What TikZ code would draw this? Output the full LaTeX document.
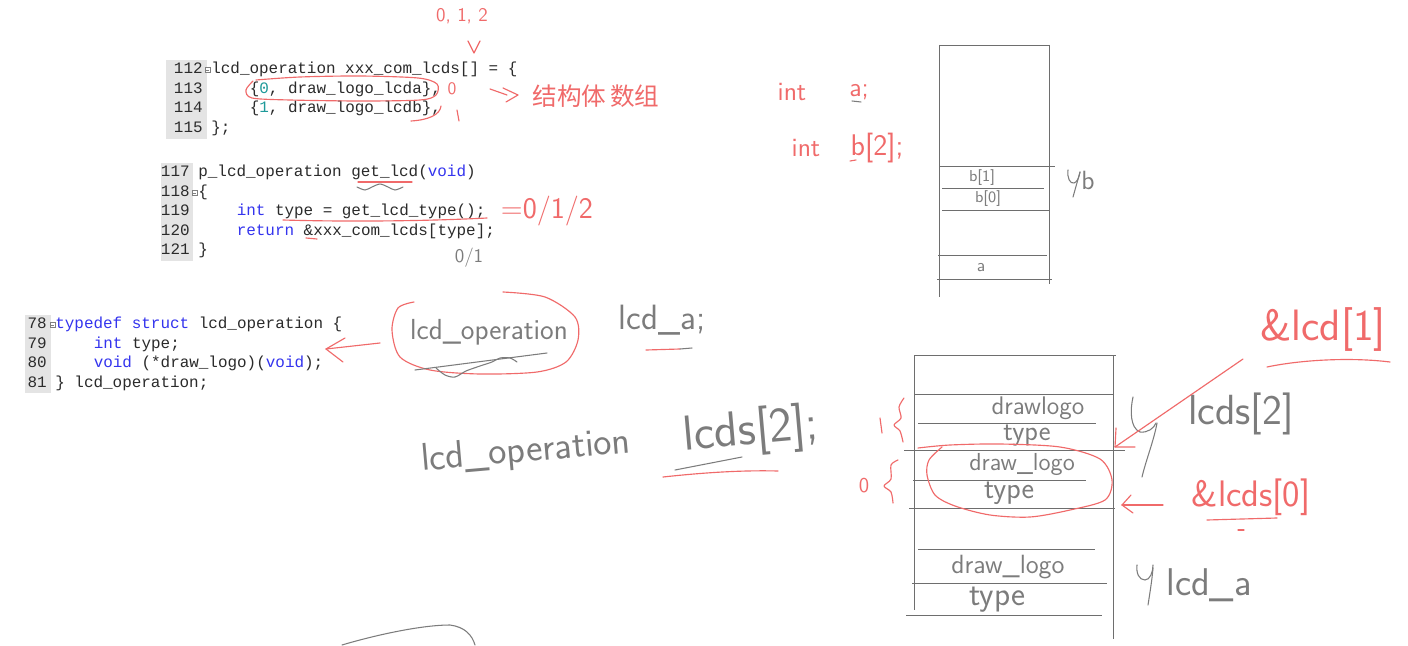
\documentclass[tikz,border=0pt]{standalone}
\usepackage{fontspec}
\setmonofont{Liberation Mono}
\newfontfamily\cjkfont{Noto Sans CJK SC}
\definecolor{ink}{HTML}{F06A6A}
\definecolor{pencil}{HTML}{7C7C7C}
\definecolor{codefg}{HTML}{2B2B2B}
\definecolor{kwblue}{HTML}{3434EE}
\definecolor{numteal}{HTML}{1E9A9A}
\definecolor{gutterbg}{HTML}{E4E4E4}
\definecolor{rulegray}{HTML}{6E6E6E}
\newcommand\kw[1]{\textcolor{kwblue}{#1}}
\newcommand\cnum[1]{\textcolor{numteal}{#1}}
\newcommand\hsz[1]{\fontsize{#1}{#1}\selectfont}
\tikzset{
  code/.style={anchor=mid west, inner sep=0, text=codefg, font=\ttfamily\hsz{9.07pt}},
  lnum/.style={anchor=mid east, inner sep=0, text=codefg, font=\ttfamily\hsz{9.07pt}},
  hand/.style={inner sep=0, text=pencil, font=\sffamily},
  redhand/.style={inner sep=0, text=ink, font=\sffamily},
  pen/.style={draw=pencil, line width=0.6pt, line cap=round, line join=round},
  redpen/.style={draw=ink, line width=0.65pt, line cap=round, line join=round},
  memline/.style={draw=rulegray, line width=0.55pt},
  gutter/.style={fill=gutterbg},
  fold/.style={draw=gray, line width=0.3pt, fill=white},
}
\begin{document}
\begin{tikzpicture}[x=0.02cm,y=-0.02cm]
\useasboundingbox (0,0) rectangle (1408,645);
\fill[white] (0,0) rectangle (1408,645);

% ---------------- code block 1 ----------------
\fill[gutter] (166,60) rectangle (207,139);
\draw[fold] (205,67.5) rectangle (210,72.5); \draw[gray,line width=0.3pt] (206,70) -- (209,70);
\node[lnum] (n112) at (203,70) {112};
\node[lnum] (n113) at (203,89.5) {113};
\node[lnum] (n114) at (203,109) {114};
\node[lnum] (n115) at (203,128.5) {115};
\node[code] (c112) at (211,70) {lcd\_operation xxx\_com\_lcds[] = \{};
\node[code] (c113) at (249.4,89.5) {\{\cnum{0}, draw\_logo\_lcda\},};
\node[code] (c114) at (249.4,109) {\{\cnum{1}, draw\_logo\_lcdb\},};
\node[code] (c115) at (211,128.5) {\};};

% ---------------- code block 2 ----------------
\fill[gutter] (161,163) rectangle (193,261);
\draw[fold] (192,190.5) rectangle (197,195.5); \draw[gray,line width=0.3pt] (193,193) -- (196,193);
\node[lnum] (n117) at (190,173) {117};
\node[lnum] (n118) at (190,192.5) {118};
\node[lnum] (n119) at (190,212) {119};
\node[lnum] (n120) at (190,231.5) {120};
\node[lnum] (n121) at (190,251) {121};
\node[code] (c117) at (198,173) {p\_lcd\_operation get\_lcd(\kw{void})};
\node[code] (c118) at (198,192.5) {\{};
\node[code] (c119) at (236.4,212) {\kw{int} type = get\_lcd\_type();};
\node[code] (c120) at (236.4,231.5) {\kw{return} \&xxx\_com\_lcds[type];};
\node[code] (c121) at (198,251) {\}};

% ---------------- code block 3 ----------------
\fill[gutter] (25,315) rectangle (51,393);
\draw[fold] (50,322.5) rectangle (55,327.5); \draw[gray,line width=0.3pt] (51,325) -- (54,325);
\node[lnum] (n78) at (47,325) {78};
\node[lnum] (n79) at (47,344.5) {79};
\node[lnum] (n80) at (47,364) {80};
\node[lnum] (n81) at (47,383.5) {81};
\node[code] (c78) at (55,325) {\kw{typedef} \kw{struct} lcd\_operation \{};
\node[code] (c79) at (93.4,344.5) {\kw{int} type;};
\node[code] (c80) at (93.4,364) {\kw{void} (*draw\_logo)(\kw{void});};
\node[code] (c81) at (55,383.5) {\} lcd\_operation;};

% ---------------- annotations block 1 ----------------
\node[redhand, font=\sffamily\hsz{11pt}] (idx012) at (462,16) {0, 1, 2};
\draw[redpen] (468,41) -- (474,53) -- (480,41);
\draw[redpen] plot[smooth] coordinates {(256,80) (300,77) (360,76) (418,78) (437,84) (436,95) (420,100) (360,101) (290,100) (252,98) (246,90) (253,81)};
\node[redhand, font=\sffamily\hsz{10pt}] (zero113) at (452,89) {0};
\draw[redpen] (411,121) .. controls (428,120) and (440,115) .. (441,106);
\draw[redpen] (457,110) -- (459,121);
\draw[redpen] (490,89) -- (507,95);
\draw[redpen] (503,88) -- (518,95) -- (506,102);
\node[redhand, font=\cjkfont\hsz{14pt}] (jgsz) at (596,96) {结构体\,数组};

% ---------------- annotations block 2 ----------------
\draw[redpen] (358,182) -- (412,182);
\draw[pen] plot[smooth] coordinates {(357,187) (365,190) (372,187) (380,184) (388,187) (395,190) (403,187)};
\draw[redpen] (283,220) .. controls (350,222) and (430,221) .. (487,218);
\draw[redpen] (306,238) -- (317,239);
\node[redhand, font=\sffamily\hsz{17pt}] (eq012) at (547,211) {=0/1/2};
\node[hand, font=\sffamily\hsz{11pt}] (zo01) at (469,258) {0/1};

% ---------------- annotations block 3 ----------------
\coordinate (arrtail) at (380,343);
\coordinate (arrtip) at (326,349);
\draw[redpen] (arrtail) -- (arrtip);
\draw[redpen] (345,338) -- (arrtip) -- (343,362);
\node[hand, font=\sffamily\hsz{16.5pt}] (hop) at (489,332) {lcd\_operation};
\draw[redpen] plot[smooth] coordinates {(503,292) (545,297) (575,317) (578,340) (566,362) (537,372) (480,374) (430,370) (400,357) (392,330) (398,308) (414,302)};
\draw[pen] (415,370) -- (547,353);
\draw[pen] plot[smooth] coordinates {(436,368) (445,375) (455,377) (466,371) (480,366) (492,362) (500,358) (510,358) (517,362)};
\node[hand, font=\sffamily\hsz{20pt}] (hlcda) at (662,320) {lcd\_a;};
\draw[redpen] (646,350) -- (680,349);
\draw[pen] (680,349) -- (692,348);

\node[hand, font=\sffamily\hsz{22pt}, rotate=5] (hop2) at (526,452) {lcd\_operation};
\node[hand, font=\sffamily\hsz{28pt}, rotate=5] (hlcds) at (751,432) {lcds[2];};
\draw[pen] (675,470) -- (742,457);
\draw[redpen] (663,477) .. controls (700,473) and (740,470) .. (778,471);
\draw[pen] (342,645) .. controls (372,636) and (420,625) .. (450,625) .. controls (465,627) and (472,635) .. (475,645);

% ---------------- stack 1 ----------------
\node[redhand, font=\sffamily\hsz{15pt}] (int1) at (792,92) {int};
\node[redhand, font=\sffamily\hsz{15pt}] (a1) at (859,92) {a;};
\draw[pen] (852,101) -- (861,102);
\node[redhand, font=\sffamily\hsz{15pt}] (int2) at (806,148) {int};
\node[redhand, font=\sffamily\hsz{17pt}] (b2) at (877,148) {b[2];};
\draw[redpen] (850,161) -- (856,160);

\draw[memline] (939,45) -- (939,297);
\draw[memline] (1049,45) -- (1049,284);
\draw[memline] (939,45) -- (1049,45);
\draw[memline] (939,166) -- (1055,166);
\draw[memline] (942,188) -- (1044,188);
\draw[memline] (942,210) -- (1049,210);
\draw[memline] (938,255) -- (1047,255);
\draw[memline] (937,279) -- (1052,279);
\node[hand, font=\sffamily\hsz{9pt}] (sb1) at (982,178) {b[1]};
\node[hand, font=\sffamily\hsz{9pt}] (sb0) at (988,199) {b[0]};
\node[hand, font=\sffamily\hsz{10pt}] (sa) at (981,268) {a};
\draw[pen] (1068,170) .. controls (1067,178) and (1070,184) .. (1074,183) .. controls (1077,182) and (1079,178) .. (1080,172);
\draw[pen] (1080,172) -- (1073,197);
\node[hand, font=\sffamily\hsz{15pt}] (sbl) at (1088,180) {b};

% ---------------- stack 2 ----------------
\draw[memline] (914,355) -- (914,610);
\draw[memline] (1113,355) -- (1113,639);
\draw[memline] (914,355) -- (1116,355);
\draw[memline] (914,394) -- (1113,394);
\draw[memline] (918,423) -- (1096,423);
\draw[memline] (904,450) -- (1125,450);
\draw[memline] (913,480) -- (1086,480);
\draw[memline] (909,508) -- (1115,508);
\draw[memline] (918,549) -- (1095,549);
\draw[memline] (912,583) -- (1107,583);
\draw[memline] (906,615) -- (1102,615);

\node[hand, font=\sffamily\hsz{14.5pt}] (dl1) at (1038,408) {drawlogo};
\node[hand, font=\sffamily\hsz{16pt}] (ty1) at (1027,436) {type};
\node[hand, font=\sffamily\hsz{14pt}] (dl2) at (1022,464) {draw\_logo};
\node[hand, font=\sffamily\hsz{17pt}] (ty2) at (1009,493) {type};
\node[hand, font=\sffamily\hsz{15pt}] (dl3) at (1008,567) {draw\_logo};
\node[hand, font=\sffamily\hsz{19pt}] (ty3) at (997,600) {type};

% braces
\draw[redpen] (880,418) -- (882,433);
\draw[redpen] plot[smooth] coordinates {(904,398) (899,407) (901,418) (894,425) (900,431) (903,442)};
\node[redhand, font=\sffamily\hsz{12pt}] (zero0) at (864,486) {0};
\draw[redpen] plot[smooth] coordinates {(898,460) (891,465) (891,479) (884,486) (891,492) (893,503)};

% ellipse around lcds[0]
\draw[redpen] plot[smooth] coordinates {(918,448) (950,445) (1000,444) (1060,447) (1100,459) (1112,480) (1105,500) (1070,510) (1030,517) (990,515) (955,506) (935,495) (927,475) (929,460) (942,447)};

% hook lcds[2]
\draw[pen] (1133,397) .. controls (1130,410) and (1130,428) .. (1140,432) .. controls (1148,433) and (1154,428) .. (1156,423);
\draw[pen] (1157,423) .. controls (1154,440) and (1146,460) .. (1142,477);
\node[hand, font=\sffamily\hsz{24pt}] (lcds2) at (1241,414) {lcds[2]};

% &lcd[1]
\node[redhand, font=\sffamily\hsz{25pt}] (alcd1) at (1323,330) {\&lcd[1]};
\draw[redpen] (1267,367) .. controls (1300,360) and (1350,357) .. (1390,362);
\coordinate (a1tail) at (1243,359);
\coordinate (a1tip) at (1115,447);
\draw[redpen] (a1tail) -- (a1tip);
\draw[redpen] (1116,428) -- (a1tip) -- (1135,447);

% &lcds[0]
\node[redhand, font=\sffamily\hsz{21pt}] (alcds0) at (1251,497) {\&lcds[0]};
\draw[redpen] (1207,520) -- (1277,518);
\draw[redpen] (1238,530) -- (1244,530);
\coordinate (a0tail) at (1163,505);
\coordinate (a0tip) at (1122,505);
\draw[redpen] (a0tail) -- (a0tip);
\draw[redpen] (1131,495) -- (a0tip) -- (1133,513);

% hook lcd_a
\draw[pen] (1137,565) .. controls (1136,573) and (1139,580) .. (1145,580) .. controls (1150,580) and (1153,572) .. (1153,565);
\draw[pen] (1153,568) .. controls (1152,580) and (1150,592) .. (1148,605);
\node[hand, font=\sffamily\hsz{22pt}] (lcda2) at (1209,585) {lcd\_a};
\end{tikzpicture}
\end{document}
